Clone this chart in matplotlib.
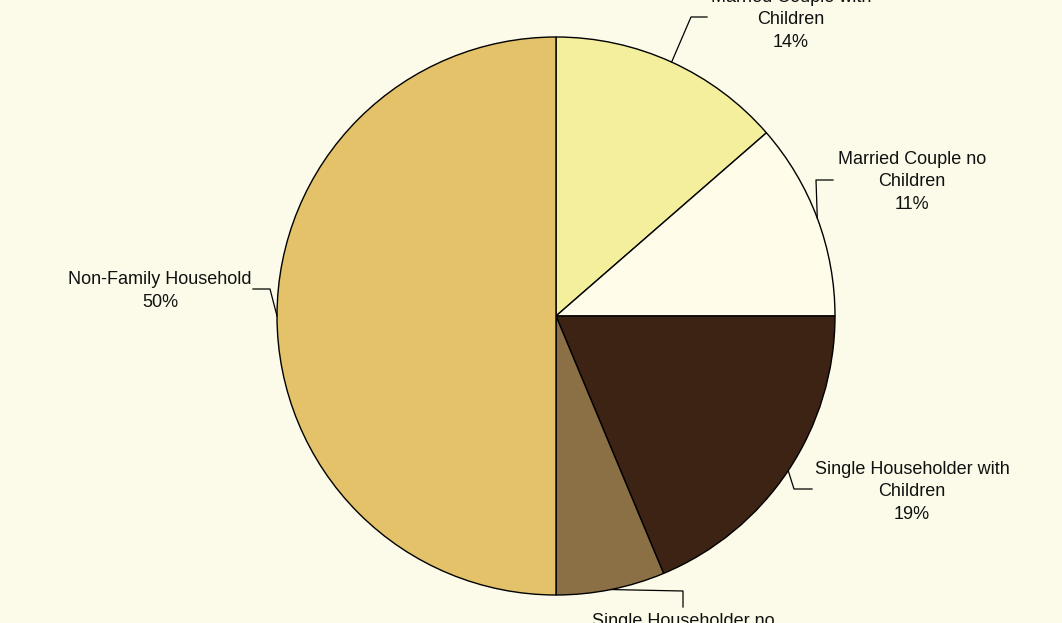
import numpy as np
import matplotlib
matplotlib.use("Agg")
import matplotlib.pyplot as plt

# household types, clockwise from the top
labels = ["Married Couple with\nChildren",
          "Married Couple no\nChildren",
          "Single Householder with\nChildren",
          "Single Householder no\nChildren",
          "Non-Family Household"]
shares = [13.6, 11.4, 18.7, 6.3, 50.0]
colors = ["#F4EF9C", "#FFFDE9", "#3D2314", "#8B7046", "#E3C26A"]

W, H = 1062, 623
bg = "#FCFAE8"

plt.rcParams['font.family'] = ['Liberation Sans', 'DejaVu Sans']

fig = plt.figure(figsize=(W / 100, H / 100), dpi=100, facecolor=bg)
ax = fig.add_axes([0, 0, 1, 1])
ax.set_facecolor(bg)

# pie geometry in pixel coords (y measured up from bottom)
cx, cy, r = 556, H - 316, 279
wedges, _ = ax.pie(shares, colors=colors, startangle=90, counterclock=False,
                   center=(cx, cy), radius=r, frame=True,
                   wedgeprops=dict(edgecolor="black", linewidth=1))

# label layout: elbow points, line ends and text centres (pixel, y down)
elbows = [(691, 17), (816, 180), (794, 489), (683, 591), (270, 289)]
ends = [(707, 17), (833, 180), (812, 489), (683, 607), (253, 289)]
text_pos = [(791, 20), (912, 182), (912, 492), (683, 644), (160, 291)]

for w, s, lab, el, en, tp in zip(wedges, shares, labels, elbows, ends, text_pos):
    mid = np.deg2rad((w.theta1 + w.theta2) / 2)
    ex, ey = cx + r * np.cos(mid), cy + r * np.sin(mid)
    ax.plot([ex, el[0], en[0]], [ey, H - el[1], H - en[1]],
            color="black", linewidth=0.9, clip_on=False)
    ax.text(tp[0], H - tp[1], f"{lab}\n{s:.0f}%", ha="center", va="center",
            multialignment="center", fontsize=13, linespacing=1.4,
            color="#111111")

ax.set_xlim(0, W)
ax.set_ylim(0, H)
ax.set_aspect("equal")
ax.axis("off")

fig.savefig("out.png", dpi=100, facecolor=bg)
